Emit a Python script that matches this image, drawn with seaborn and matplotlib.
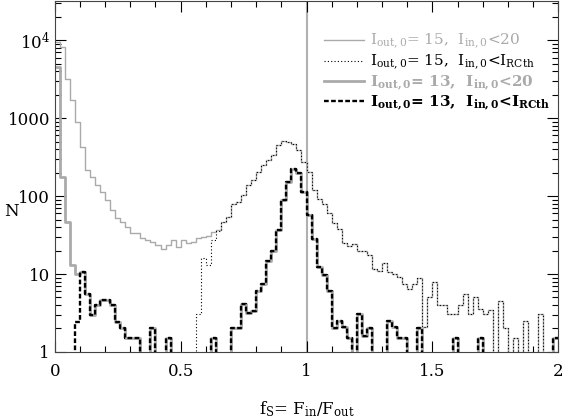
import numpy as np
import seaborn as sns
import matplotlib.pyplot as plt
from matplotlib.lines import Line2D
from matplotlib.ticker import MultipleLocator, LogLocator, NullFormatter

# -------------------------------------------------------------
# data : histograms of f_S in 100 bins from 0 to 2
# -------------------------------------------------------------
bin_lo, bin_hi, n_bins = 0.0, 2.0, 100

# I_out,0 = 15, I_in,0 < 20  (thin grey)
n15_20 = [9500, 8200, 3200, 1700, 900, 430, 215, 177, 138, 114,
          89, 66, 52, 47, 40, 34, 34, 29, 27, 26,
          23.6, 21, 23.6, 27, 22, 27, 25, 26, 29, 30,
          31, 35, 37, 47, 54, 80, 85, 102, 137, 159,
          204, 247, 287, 333, 447, 510, 494, 470, 385, 275,
          204, 118, 93, 80, 60, 45, 38, 25, 23, 24,
          20, 20, 17.4, 11.7, 11, 14, 10.5, 10, 9.1, 7.5,
          6.5, 7.5, 8.9, 2.1, 5.1, 7.9, 4, 4, 3.1, 3.1,
          4, 5.5, 3.1, 5, 3.6, 3.1, 3.5, 0, 4.5, 2,
          0, 1.5, 0, 2.5, 0, 0, 3.1, 0, 0, 1.5]

# I_out,0 = 15, I_in,0 < I_RCth  (thin black dotted)
n15_rc = [0] * 28 + [3.1, 16, 13, 27, 36] + n15_20[33:]

# I_out,0 = 13, I_in,0 < I_RCth  (thick black dashed)
n13_rc = [0, 0, 0, 0, 2.4, 10.6, 5.6, 3.0, 4.0, 4.6,
          4.6, 4.0, 2.4, 2.0, 1.5, 1.5, 1.5, 0, 0, 2.0,
          0, 0, 1.5, 0, 0, 0, 0, 0, 0, 0,
          0, 1.5, 0, 0, 0, 2.0, 2.0, 4.1, 3.2, 3.4,
          6.1, 7.5, 14.7, 20, 37, 89, 150, 224, 200, 113,
          57, 28, 12.3, 9.6, 6, 2.0, 2.5, 2.1, 1.5, 0,
          3.1, 1.6, 2.0, 0, 0, 0, 2.5, 2.1, 1.5, 1.5,
          0, 0, 2.0, 0, 0, 0, 0, 0, 0, 1.5,
          0, 0, 0, 0, 1.5, 0, 0, 0, 0, 0,
          0, 0, 0, 0, 0, 0, 0, 0, 0, 1.5]

# I_out,0 = 13, I_in,0 < 20  (thick grey)
n13_20 = [4560, 174, 46, 12.9, 10.1] + n13_rc[5:]

labels = [r"$\mathrm{I_{out,0}}$= 15,  $\mathrm{I_{in,0}}$<20",
          r"$\mathrm{I_{out,0}}$= 15,  $\mathrm{I_{in,0}}$<$\mathrm{I_{RCth}}$",
          r"$\mathbf{I_{out,0}}$= 13,  $\mathbf{I_{in,0}}$<20",
          r"$\mathbf{I_{out,0}}$= 13,  $\mathbf{I_{in,0}}$<$\mathbf{I_{RCth}}$"]

# -------------------------------------------------------------
# style
# -------------------------------------------------------------
plt.rcParams["font.family"] = ["DejaVu Serif"]
plt.rcParams["mathtext.fontset"] = "dejavuserif"
plt.rcParams["font.size"] = 12

grey = "#aaaaaa"
styles = [
    dict(color=grey, linewidth=1.0, linestyle="-"),
    dict(color="black", linewidth=0.8, linestyle=(0, (1, 2))),
    dict(color=grey, linewidth=2.0, linestyle="-"),
    dict(color="black", linewidth=1.7, linestyle=(0, (2, 1))),
]
series = [n15_20, n15_rc, n13_20, n13_rc]

width = (bin_hi - bin_lo) / n_bins
centers = bin_lo + width * (np.arange(n_bins) + 0.5)

fig = plt.figure(figsize=(5.65, 4.2), dpi=100)
ax = fig.add_axes([0.097, 0.162, 0.891, 0.835])
ax.set_yscale("log")

for vals, st in zip(series, styles):
    sns.histplot(x=centers, weights=vals, bins=n_bins, binrange=(bin_lo, bin_hi),
                 element="step", fill=False, ax=ax, **st)

ax.axvline(1.0, color="#b0b0b0", linewidth=1.5, zorder=0)

ax.set_xlim(0, 2)
ax.set_ylim(1, 10 ** 4.5)

ax.set_xticks([0, 0.5, 1, 1.5, 2])
ax.set_xticklabels(["0", "0.5", "1", "1.5", "2"])
ax.xaxis.set_minor_locator(MultipleLocator(0.1))
ax.set_yticks([1, 10, 100, 1000, 10000])
ax.set_yticklabels(["1", "10", "100", "1000", r"$10^4$"])
ax.yaxis.set_minor_locator(LogLocator(base=10, subs=np.arange(2, 10)))
ax.yaxis.set_minor_formatter(NullFormatter())
ax.tick_params(which="both", direction="in", top=True, right=True, labelsize=12)
ax.tick_params(which="major", length=8, width=0.8)
ax.tick_params(which="minor", length=4, width=0.8)
ax.tick_params(axis="x", pad=8)
for sp in ax.spines.values():
    sp.set_color("#444444")

ax.set_xlabel(r"$\mathrm{f_S}$= $\mathrm{F_{in}/F_{out}}$", fontsize=12, labelpad=14)
ax.set_ylabel("N", fontsize=12, rotation=0, ha="center", va="center")
ax.yaxis.set_label_coords(-0.087, 0.40)

handles = [Line2D([], [], **st) for st in styles]
leg = ax.legend(handles, labels, loc="upper right", bbox_to_anchor=(1.0, 0.935),
                frameon=False, handlelength=2.6, handletextpad=0.4,
                labelspacing=0.1, borderaxespad=0.1, fontsize=11)
for txt, col, w in zip(leg.get_texts(), [grey, "black", grey, "black"],
                       ["normal", "normal", "bold", "bold"]):
    txt.set_color(col)
    txt.set_fontweight(w)

fig.savefig("out.png", dpi=100)
